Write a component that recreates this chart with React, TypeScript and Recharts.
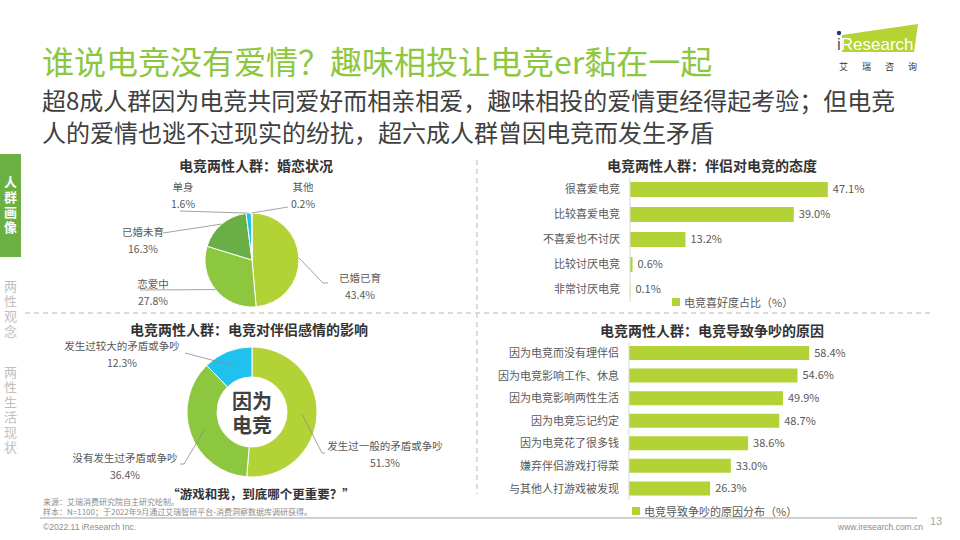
import { Bar, BarChart, Cell, LabelList, Legend, Pie, PieChart, XAxis, YAxis } from 'recharts'

const FONT = '"Noto Sans CJK SC", "Noto Sans", sans-serif'
const TEXT = '#595959'
const LIME = '#B2D235'

// 婚恋状况
const maritalNames = ['已婚已育', '恋爱中', '已婚未育', '单身', '其他']
const maritalValues = [43.4, 27.8, 16.3, 1.6, 0.2]
const maritalColors = ['#B2D235', '#8DC63F', '#6AAF45', '#1FC1EF', '#C9E27A']

// 伴侣对电竞的态度
const attitudeCats = ['很喜爱电竞', '比较喜爱电竞', '不喜爱也不讨厌', '比较讨厌电竞', '非常讨厌电竞']
const attitudeValues = [47.1, 39.0, 13.2, 0.6, 0.1]

// 电竞对伴侣感情的影响
const impactNames = ['发生过一般的矛盾或争吵', '没有发生过矛盾或争吵', '发生过较大的矛盾或争吵']
const impactValues = [51.3, 36.4, 12.3]
const impactColors = ['#B2D235', '#8DC63F', '#1FC1EF']

// 电竞导致争吵的原因
const reasonCats = [
  '因为电竞而没有理伴侣',
  '因为电竞影响工作、休息',
  '因为电竞影响两性生活',
  '因为电竞忘记约定',
  '因为电竞花了很多钱',
  '嫌弃伴侣游戏打得菜',
  '与其他人打游戏被发现',
]
const reasonValues = [58.4, 54.6, 49.9, 48.7, 38.6, 33.0, 26.3]

const maritalData = maritalNames.map((name, i) => ({ name, value: maritalValues[i] }))
const attitudeData = attitudeCats.map((name, i) => ({ name, value: attitudeValues[i] }))
const impactData = impactNames.map((name, i) => ({ name, value: impactValues[i] }))
const reasonData = reasonCats.map((name, i) => ({ name, value: reasonValues[i] }))

// label placement, offsets from the pie centre
interface LabelLayout {
  line: [number, number][]
  text: [number, number]
}

const maritalLabels: LabelLayout[] = [
  { line: [[71, 23], [76, 23]], text: [108, 17] },
  { line: [[-112, 30]], text: [-99, 23] },
  { line: [[-89, -27]], text: [-109, -29] },
  { line: [[-72, -49]], text: [-69, -74] },
  { line: [[36, -53]], text: [51, -74] },
]

const impactLabels: LabelLayout[] = [
  { line: [[70, 41], [73, 41]], text: [133, 33] },
  { line: [[-68, 52], [-72, 52]], text: [-127, 45] },
  { line: [[-67, -59]], text: [-130, -67] },
]

const RAD = Math.PI / 180

function pieLabel(layout: LabelLayout[], startR?: number) {
  return (props: any) => {
    const { cx, cy, midAngle, outerRadius, index } = props
    const name = props.name ?? props.payload?.name
    const value = props.value ?? props.payload?.value
    const r = startR ?? outerRadius
    const sx = cx + r * Math.cos(-midAngle * RAD)
    const sy = cy + r * Math.sin(-midAngle * RAD)
    const L = layout[index]
    const pts = [[sx, sy], ...L.line.map(([dx, dy]) => [cx + dx, cy + dy])]
    return (
      <g key={`lbl-${index}`}>
        <polyline
          points={pts.map(p => p.join(',')).join(' ')}
          fill="none"
          stroke="#8c8c8c"
          strokeWidth={0.8}
        />
        <text x={cx + L.text[0]} y={cy + L.text[1]} textAnchor="middle" dominantBaseline="central" fill={TEXT} fontSize={10.5} fontFamily={FONT}>
          {name}
        </text>
        <text x={cx + L.text[0]} y={cy + L.text[1] + 17} textAnchor="middle" dominantBaseline="central" fill={TEXT} fontSize={10.5} fontFamily={FONT}>
          {Number(value).toFixed(1)}%
        </text>
      </g>
    )
  }
}

function LegendBox({ label }: { label: string }) {
  return (
    <div style={{ display: 'flex', alignItems: 'center', fontSize: 11, color: TEXT, fontFamily: FONT, whiteSpace: 'nowrap' }}>
      <span style={{ display: 'inline-block', width: 8, height: 8, background: LIME, marginRight: 4 }} />
      {label}
    </div>
  )
}

const abs = (left: number, top: number, extra: object = {}) => ({ position: 'absolute' as const, left, top, ...extra })

function VerticalText({ text, top, color, bold }: { text: string; top: number; color: string; bold?: boolean }) {
  return (
    <div
      style={abs(3, top, {
        writingMode: 'vertical-rl',
        color,
        fontSize: 13,
        fontWeight: bold ? 700 : 400,
        letterSpacing: 2,
        lineHeight: '15px',
      })}
    >
      {text}
    </div>
  )
}

const centerText = { width: 60, textAlign: 'center' as const, fontSize: 20, fontWeight: 700, color: '#404040', lineHeight: '24px' }

export default function App() {
  return (
    <div style={{ position: 'relative', width: 960, height: 540, background: '#fff', fontFamily: FONT, overflow: 'hidden' }}>
      <style>{'body{margin:0}'}</style>

      {/* header */}
      <div style={abs(42, 39, { fontSize: 32, color: '#8DC63F', lineHeight: '42px', whiteSpace: 'nowrap' })}>
        谁说电竞没有爱情？趣味相投让电竞er黏在一起
      </div>
      <div style={abs(42, 84, { fontSize: 24, color: '#404040', lineHeight: '32px', width: 900 })}>
        <div style={{ whiteSpace: 'nowrap' }}>超8成人群因为电竞共同爱好而相亲相爱，趣味相投的爱情更经得起考验；但电竞</div>
        <div style={{ whiteSpace: 'nowrap' }}>人的爱情也逃不过现实的纷扰，超六成人群曾因电竞而发生矛盾</div>
      </div>

      {/* logo */}
      <svg style={abs(830, 20)} width={100} height={56}>
        <polygon points="12,15 88,4 84,32 12,32" fill="#B5D334" />
        <circle cx={9} cy={13} r={2.2} fill="#1F3A6E" />
        <text x={7} y={30} fontSize={17} fill="#fff" fontFamily="Liberation Sans, Arial, sans-serif">
          <tspan fill="#555">i</tspan>Research
        </text>
        <text x={9} y={50} fontSize={9} fill="#333" fontFamily={FONT} letterSpacing={14}>艾瑞咨询</text>
      </svg>

      {/* side nav */}
      <div style={abs(0, 154, { width: 21, height: 103, background: '#6AB043' })} />
      <VerticalText text="人群画像" top={176} color="#fff" bold />
      <VerticalText text="两性观念" top={280} color="#bfbfbf" />
      <VerticalText text="两性生活现状" top={366} color="#bfbfbf" />

      {/* separators */}
      <svg style={abs(0, 0)} width={960} height={540}>
        <line x1={25} y1={313} x2={934} y2={313} stroke="#d0d0d0" strokeWidth={1.5} strokeDasharray="5 4" />
        <line x1={477} y1={160} x2={477} y2={494} stroke="#d0d0d0" strokeWidth={1.5} strokeDasharray="5 4" />
        <line x1={40} y1={518} x2={917} y2={518} stroke="#d0d0d0" strokeWidth={2} />
      </svg>

      {/* chart titles */}
      <div style={abs(25, 155, { width: 462, textAlign: 'center', fontSize: 14, fontWeight: 700, color: '#333' })}>电竞两性人群：婚恋状况</div>
      <div style={abs(480, 155, { width: 464, textAlign: 'center', fontSize: 14, fontWeight: 700, color: '#333' })}>电竞两性人群：伴侣对电竞的态度</div>
      <div style={abs(25, 319, { width: 448, textAlign: 'center', fontSize: 14, fontWeight: 700, color: '#333' })}>电竞两性人群：电竞对伴侣感情的影响</div>
      <div style={abs(480, 320, { width: 464, textAlign: 'center', fontSize: 14, fontWeight: 700, color: '#333' })}>电竞两性人群：电竞导致争吵的原因</div>

      {/* 婚恋状况 */}
      <div style={abs(25, 150)}>
        <PieChart width={450} height={172}>
          <Pie
            data={maritalData}
            dataKey="value"
            nameKey="name"
            cx={222}
            cy={105}
            outerRadius={47}
            startAngle={90}
            endAngle={-270}
            stroke="#fff"
            strokeWidth={1}
            label={pieLabel(maritalLabels)}
            labelLine={false}
            isAnimationActive={false}
          >
            {maritalData.map((d, i) => (
              <Cell key={d.name} fill={maritalColors[i]} />
            ))}
          </Pie>
        </PieChart>
      </div>

      {/* 伴侣对电竞的态度 */}
      <div style={abs(480, 150)}>
        <BarChart width={460} height={160} data={attitudeData} layout="vertical" margin={{ top: 27, right: 58, bottom: 8, left: 0 }}>
          <XAxis type="number" domain={[0, 60]} hide />
          <YAxis
            type="category"
            dataKey="name"
            width={150}
            tickLine={false}
            axisLine={{ stroke: '#d9d9d9' }}
            tickMargin={4}
            tick={{ fill: TEXT, fontSize: 11, fontFamily: FONT }}
            interval={0}
          />
          <Legend
            layout="horizontal"
            verticalAlign="middle"
            align="center"
            wrapperStyle={{ left: 192, top: 144, width: 'auto' }}
            content={() => <LegendBox label="电竞喜好度占比（%）" />}
          />
          <Bar dataKey="value" name="电竞喜好度占比（%）" fill={LIME} barSize={15} isAnimationActive={false}>
            <LabelList
              dataKey="value"
              position="right"
              offset={5}
              fill={TEXT}
              fontSize={11}
              fontFamily={FONT}
              formatter={(v: any) => `${Number(v).toFixed(1)}%`}
            />
          </Bar>
        </BarChart>
      </div>

      {/* 电竞对伴侣感情的影响 */}
      <div style={abs(25, 315)}>
        <PieChart width={450} height={175}>
          <Pie
            data={impactData}
            dataKey="value"
            nameKey="name"
            cx={222}
            cy={92}
            innerRadius={35}
            outerRadius={65}
            startAngle={90}
            endAngle={-270}
            stroke="#fff"
            strokeWidth={1}
            label={pieLabel(impactLabels, 50)}
            labelLine={false}
            isAnimationActive={false}
          >
            {impactData.map((d, i) => (
              <Cell key={d.name} fill={impactColors[i]} />
            ))}
          </Pie>
        </PieChart>
      </div>
      <div style={abs(222, 389, centerText)}>因为</div>
      <div style={abs(222, 413, centerText)}>电竞</div>
      <div style={abs(25, 484, { width: 472, textAlign: 'center', fontSize: 12.5, fontWeight: 700, color: '#333' })}>
        “游戏和我，到底哪个更重要？”
      </div>

      {/* 电竞导致争吵的原因 */}
      <div style={abs(480, 315)}>
        <BarChart width={460} height={200} data={reasonData} layout="vertical" margin={{ top: 27, right: 95, bottom: 15, left: 0 }}>
          <XAxis type="number" domain={[0, 70]} hide />
          <YAxis
            type="category"
            dataKey="name"
            width={149}
            tickLine={false}
            axisLine={{ stroke: '#d9d9d9' }}
            tickMargin={4}
            tick={{ fill: TEXT, fontSize: 11, fontFamily: FONT }}
            interval={0}
          />
          <Legend
            layout="horizontal"
            verticalAlign="middle"
            align="center"
            wrapperStyle={{ left: 152, top: 188, width: 'auto' }}
            content={() => <LegendBox label="电竞导致争吵的原因分布（%）" />}
          />
          <Bar dataKey="value" name="电竞导致争吵的原因分布（%）" fill={LIME} barSize={14} isAnimationActive={false}>
            <LabelList
              dataKey="value"
              position="right"
              offset={5}
              fill={TEXT}
              fontSize={11}
              fontFamily={FONT}
              formatter={(v: any) => `${Number(v).toFixed(1)}%`}
            />
          </Bar>
        </BarChart>
      </div>

      {/* footer */}
      <div style={abs(43, 497, { fontSize: 8, color: '#8c8c8c', lineHeight: '10px' })}>
        <div>来源：艾瑞消费研究院自主研究绘制。</div>
        <div>样本：N=1100；于2022年9月通过艾瑞智研平台-消费洞察数据库调研获得。</div>
      </div>
      <div style={abs(43, 522, { fontSize: 8.5, color: '#8c8c8c', fontFamily: 'Liberation Sans, Arial, sans-serif' })}>©2022.11 iResearch Inc.</div>
      <div style={abs(838, 522, { fontSize: 8.5, color: '#8c8c8c', fontFamily: 'Liberation Sans, Arial, sans-serif' })}>www.iresearch.com.cn</div>
      <div style={abs(930, 515, { fontSize: 11, color: '#a6a6a6', fontFamily: 'Liberation Sans, Arial, sans-serif' })}>13</div>
    </div>
  )
}
